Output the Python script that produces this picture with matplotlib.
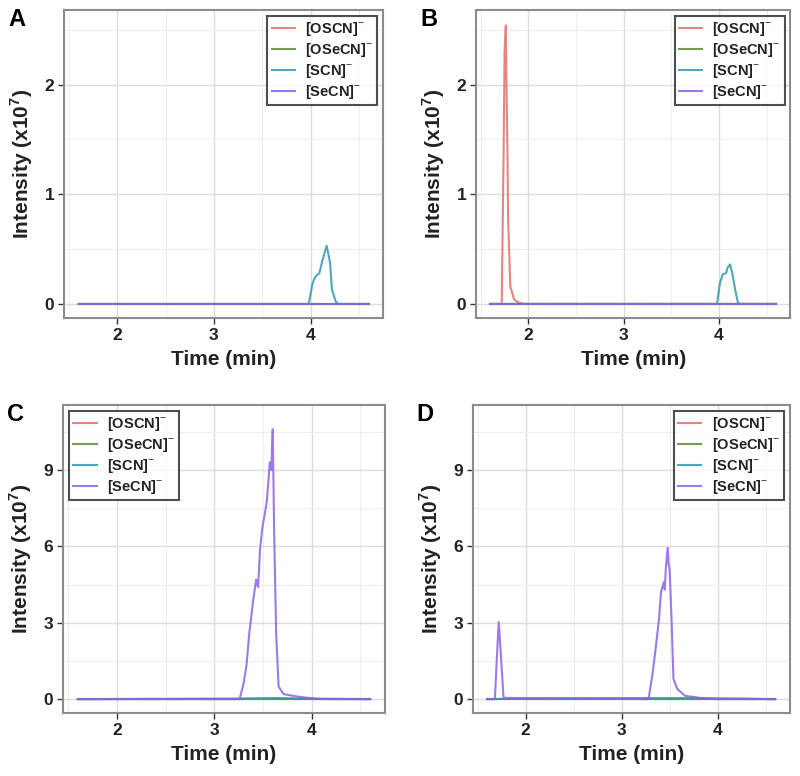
import matplotlib
matplotlib.use('Agg')
import matplotlib.pyplot as plt
import numpy as np
from matplotlib.ticker import MultipleLocator

plt.rcParams['font.family'] = ['Liberation Sans', 'DejaVu Sans']
plt.rcParams['mathtext.fontset'] = 'custom'
plt.rcParams['mathtext.rm'] = 'Liberation Sans'
plt.rcParams['mathtext.bf'] = 'Liberation Sans:bold'

series_names = ['[OSCN]$^{-}$', '[OSeCN]$^{-}$', '[SCN]$^{-}$', '[SeCN]$^{-}$']
series_colors = ['#E0706C', '#5E8A35', '#2E9AAE', '#8A63E6']

# flat trace for series without a peak
flat_t = [1.6, 4.6]
flat_y = [0, 0]

# panel A: SCN peak only
a_scn_t = [1.6, 3.98, 4.02, 4.05, 4.09, 4.12, 4.165, 4.2, 4.22, 4.26, 4.29, 4.6]
a_scn_y = [0, 0, 0.19, 0.25, 0.28, 0.39, 0.53, 0.38, 0.13, 0.02, 0, 0]

# panel B: OSCN and SCN peaks
b_oscn_t = [1.6, 1.72, 1.74, 1.75, 1.763, 1.77, 1.78, 1.787, 1.81, 1.85, 1.90, 1.95, 4.6]
b_oscn_y = [0, 0, 1.4, 2.3, 2.54, 2.0, 1.4, 0.78, 0.16, 0.04, 0.01, 0, 0]
b_scn_t = [1.6, 3.98, 4.01, 4.04, 4.075, 4.09, 4.117, 4.14, 4.17, 4.2, 4.22, 4.6]
b_scn_y = [0, 0, 0.19, 0.27, 0.28, 0.33, 0.36, 0.28, 0.13, 0.01, 0, 0]

# panel C: SeCN peak
c_secn_t = [1.6, 3.26, 3.30, 3.33, 3.36, 3.40, 3.43, 3.45, 3.47, 3.49, 3.50, 3.52, 3.54,
            3.55, 3.57, 3.585, 3.60, 3.615, 3.635, 3.66, 3.71, 3.85, 3.99, 4.1, 4.6]
c_secn_y = [0, 0, 0.6, 1.3, 2.6, 3.9, 4.7, 4.4, 5.9, 6.6, 6.9, 7.3, 7.8,
            8.3, 9.3, 9.0, 10.6, 6.5, 2.6, 0.5, 0.2, 0.1, 0.04, 0, 0]
c_oseCN_t = [1.6, 3.2, 3.6, 4.0, 4.6]
c_oseCN_y = [0, 0.02, 0.04, 0.02, 0]

# panel D: two SeCN peaks
d_secn_t = [1.6, 1.68, 1.70, 1.72, 1.745, 1.77, 3.28, 3.32, 3.35, 3.39, 3.41, 3.44,
            3.45, 3.46, 3.48, 3.49, 3.50, 3.52, 3.54, 3.58, 3.66, 3.84, 3.97, 4.6]
d_secn_y = [0, 0, 1.58, 3.03, 1.58, 0.05, 0, 0.92, 1.84, 3.16, 4.2, 4.6,
            4.3, 5.1, 5.95, 5.3, 5.1, 3.16, 0.8, 0.4, 0.13, 0.04, 0, 0]
d_oseCN_t = [1.6, 2.2, 3.0, 3.8, 4.3, 4.6]
d_oseCN_y = [0, 0.03, 0.04, 0.04, 0.02, 0]

panels = [
    ('A', [(flat_t, flat_y), (flat_t, flat_y), (a_scn_t, a_scn_y), (flat_t, flat_y)]),
    ('B', [(b_oscn_t, b_oscn_y), (flat_t, flat_y), (b_scn_t, b_scn_y), (flat_t, flat_y)]),
    ('C', [(flat_t, flat_y), (c_oseCN_t, c_oseCN_y), (flat_t, flat_y), (c_secn_t, c_secn_y)]),
    ('D', [(flat_t, flat_y), (d_oseCN_t, d_oseCN_y), (flat_t, flat_y), (d_secn_t, d_secn_y)]),
]

axes_pos = [
    [0.080, 0.590, 0.399, 0.397],
    [0.595, 0.590, 0.393, 0.397],
    [0.079, 0.081, 0.402, 0.397],
    [0.591, 0.081, 0.396, 0.397],
]
ylims = [(-0.13, 2.68), (-0.13, 2.68), (-0.55, 11.55), (-0.55, 11.55)]
ymajor = [1, 1, 3, 3]
legend_loc = ['upper right', 'upper right', 'upper left', 'upper right']

fig = plt.figure(figsize=(8, 7.76), dpi=100)

for i, (letter, traces) in enumerate(panels):
    ax = fig.add_axes(axes_pos[i])
    for (t, y), name, col in zip(traces, series_names, series_colors):
        ax.plot(t, y, color=col, lw=1.5, alpha=0.85, label=name)
    ax.set_xlim(1.45, 4.75)
    ax.set_ylim(*ylims[i])
    ax.xaxis.set_major_locator(MultipleLocator(1))
    ax.xaxis.set_minor_locator(MultipleLocator(0.5))
    ax.yaxis.set_major_locator(MultipleLocator(ymajor[i]))
    ax.yaxis.set_minor_locator(MultipleLocator(ymajor[i] / 2))
    ax.grid(which='major', color='#DCDCDC', lw=1.0)
    ax.grid(which='minor', color='#EEEEEE', lw=0.7)
    ax.set_axisbelow(True)
    ax.tick_params(which='minor', length=0)
    ax.tick_params(which='major', length=4, width=1, color='#333333',
                   labelsize=12.5, pad=3)
    for lab in ax.get_xticklabels() + ax.get_yticklabels():
        lab.set_fontweight('bold')
        lab.set_color('#222222')
    for sp in ax.spines.values():
        sp.set_color('#8C8C8C')
        sp.set_linewidth(1.5)
    ax.set_xlabel('Time (min)', fontsize=15, fontweight='bold', color='#222222', labelpad=5)
    ax.set_ylabel('Intensity (x10$^{\\mathbf{7}}$)', fontsize=15, fontweight='bold',
                  color='#222222', labelpad=7)
    leg = ax.legend(loc=legend_loc[i], fontsize=10.5, frameon=True, fancybox=False,
                    handlelength=1.6, borderpad=0.3, labelspacing=0.2,
                    handletextpad=0.7, borderaxespad=0.4)
    leg.get_frame().set_edgecolor('#222222')
    leg.get_frame().set_linewidth(1.5)
    for txt in leg.get_texts():
        txt.set_fontweight('bold')
        txt.set_color('#222222')
    x0 = axes_pos[i][0] - 0.07
    y0 = axes_pos[i][1] + axes_pos[i][3] + 0.003
    fig.text(x0, y0, letter, fontsize=17, fontweight='bold', va='top', ha='left')

fig.savefig('out.png', dpi=100)
